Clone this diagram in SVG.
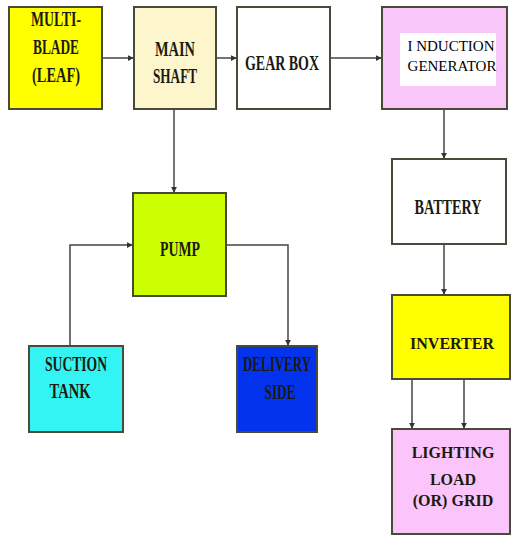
<svg xmlns="http://www.w3.org/2000/svg" width="512" height="536" viewBox="0 0 512 536">
<style>
.box{stroke:#4a4a3a;stroke-width:2}
.t{font-family:"Liberation Serif","Times New Roman",serif;font-weight:bold;font-size:20px;text-anchor:middle;fill:#1a1a10}
.s{font-size:16px}
.g{font-size:15px;font-weight:normal;fill:#000000}
.c{stroke:#444;stroke-width:1.5;fill:none}
</style>
<defs>
<marker id="ah" viewBox="0 0 8 8" refX="7" refY="4" markerWidth="6" markerHeight="6" orient="auto" markerUnits="userSpaceOnUse">
<path d="M0,0 L8,4 L0,8 z" fill="#333"/>
</marker>
</defs>
<rect width="512" height="536" fill="#ffffff"/>
<g id="connectors">
<line class="c" x1="102" y1="58" x2="133" y2="58" marker-end="url(#ah)"/>
<line class="c" x1="216" y1="58" x2="236" y2="58" marker-end="url(#ah)"/>
<line class="c" x1="330" y1="58" x2="381" y2="58" marker-end="url(#ah)"/>
<line class="c" x1="174" y1="109" x2="174" y2="192" marker-end="url(#ah)"/>
<polyline class="c" points="70,346 70,245 132,245" marker-end="url(#ah)"/>
<polyline class="c" points="226,245 288,245 288,345" marker-end="url(#ah)"/>
<line class="c" x1="444" y1="109" x2="444" y2="158" marker-end="url(#ah)"/>
<line class="c" x1="444" y1="244" x2="444" y2="294" marker-end="url(#ah)"/>
<line class="c" x1="412" y1="379" x2="412" y2="428" marker-end="url(#ah)"/>
<line class="c" x1="464" y1="379" x2="464" y2="428" marker-end="url(#ah)"/>
</g>
<g id="multiblade">
<rect class="box" x="9" y="7" width="93" height="102" fill="#ffff00" stroke="#6b6b30"/>
<text class="t" x="56" y="26" textLength="50" lengthAdjust="spacingAndGlyphs">MULTI-</text>
<text class="t" x="56" y="54" textLength="46" lengthAdjust="spacingAndGlyphs">BLADE</text>
<text class="t" x="56" y="82" textLength="48" lengthAdjust="spacingAndGlyphs">(LEAF)</text>
</g>
<g id="mainshaft">
<rect class="box" x="134" y="7" width="82" height="102" fill="#fdf6cc" stroke="#8a7050"/>
<text class="t" x="175" y="56" textLength="40" lengthAdjust="spacingAndGlyphs" fill="#2a1a10">MAIN</text>
<text class="t" x="175" y="83" textLength="44" lengthAdjust="spacingAndGlyphs" fill="#2a1a10">SHAFT</text>
</g>
<g id="gearbox">
<rect class="box" x="237" y="7" width="93" height="102" fill="#ffffff" stroke="#708070"/>
<text class="t" x="282" y="70" textLength="74" lengthAdjust="spacingAndGlyphs" fill="#1f3a1f">GEAR BOX</text>
</g>
<g id="generator">
<rect class="box" x="382" y="7" width="125" height="102" fill="#f8c6f8" stroke="#604070"/>
<rect x="400" y="33" width="96" height="53" fill="#ffffff"/>
<text class="t g" x="451" y="51">I NDUCTION</text>
<text class="t g" x="452" y="71">GENERATOR</text>
</g>
<g id="pump">
<rect class="box" x="133" y="193" width="93" height="103" fill="#ccff00" stroke="#3a4a20"/>
<text class="t" x="180" y="256" textLength="40" lengthAdjust="spacingAndGlyphs" fill="#1f3a00">PUMP</text>
</g>
<g id="battery">
<rect class="box" x="392" y="159" width="114" height="85" fill="#ffffff" stroke="#404040"/>
<text class="t" x="448" y="214" textLength="67" lengthAdjust="spacingAndGlyphs">BATTERY</text>
</g>
<g id="suction">
<rect class="box" x="29" y="346" width="94" height="86" fill="#33f3f3" stroke="#305050"/>
<text class="t" x="76" y="371" textLength="62" lengthAdjust="spacingAndGlyphs" fill="#102a2a">SUCTION</text>
<text class="t" x="70" y="398" textLength="41" lengthAdjust="spacingAndGlyphs" fill="#102a2a">TANK</text>
</g>
<g id="delivery">
<rect class="box" x="237" y="346" width="80" height="86" fill="#0433ee" stroke="#202060"/>
<text class="t" x="277" y="371" textLength="68" lengthAdjust="spacingAndGlyphs" fill="#0a0a50">DELIVERY</text>
<text class="t" x="280" y="399" textLength="31" lengthAdjust="spacingAndGlyphs" fill="#0a0a50">SIDE</text>
</g>
<g id="inverter">
<rect class="box" x="392" y="295" width="118" height="84" fill="#ffff00" stroke="#5a5a30"/>
<text class="t s" x="452" y="349" fill="#2a2010">INVERTER</text>
</g>
<g id="lighting">
<rect class="box" x="392" y="429" width="118" height="105" fill="#fbc5fb" stroke="#503040"/>
<text class="t s" x="453" y="458" fill="#3a1020">LIGHTING</text>
<text class="t s" x="453" y="485" fill="#3a1020">LOAD</text>
<text class="t s" x="453" y="506" fill="#3a1020">(OR) GRID</text>
</g>
</svg>
